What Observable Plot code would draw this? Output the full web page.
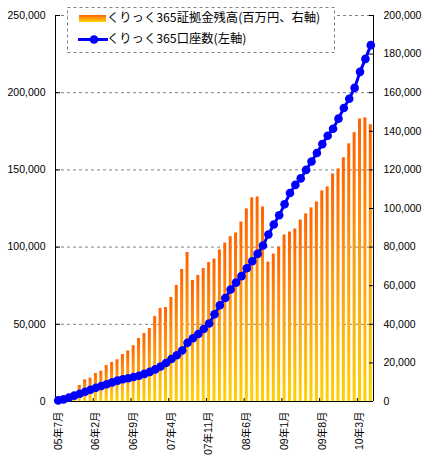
<!DOCTYPE html>
<html>
<head>
<meta charset="utf-8">
<script src="https://cdn.jsdelivr.net/npm/d3@7"></script>
<script src="https://cdn.jsdelivr.net/npm/@observablehq/plot@0.6"></script>
<style>
  body { margin: 0; background: #fff; }
  #chart { position: relative; width: 429px; height: 467px; }
</style>
</head>
<body>
<div id="chart"></div>
<script>
// months (categories)
const months = [
  "05年7月","05年8月","05年9月","05年10月","05年11月","05年12月",
  "06年1月","06年2月","06年3月","06年4月","06年5月","06年6月","06年7月","06年8月","06年9月","06年10月","06年11月","06年12月",
  "07年1月","07年2月","07年3月","07年4月","07年5月","07年6月","07年7月","07年8月","07年9月","07年10月","07年11月","07年12月",
  "08年1月","08年2月","08年3月","08年4月","08年5月","08年6月","08年7月","08年8月","08年9月","08年10月","08年11月","08年12月",
  "09年1月","09年2月","09年3月","09年4月","09年5月","09年6月","09年7月","09年8月","09年9月","09年10月","09年11月","09年12月",
  "10年1月","10年2月","10年3月","10年4月","10年5月"
]
// 証拠金残高 (百万円, right axis)
const balance = [
  300, 1000, 2000, 4700, 8300, 11200, 12100, 14500, 15700, 18600,
  20200, 21600, 24300, 26200, 28900, 32600, 35200, 37800, 44000, 48200,
  48700, 53900, 60100, 68400, 77200, 62700, 65300, 68900, 72000, 73800,
  78500, 82100, 85400, 87300, 93000, 99800, 105500, 106000, 100800, 72200,
  76400, 80000, 86300, 87800, 89400, 94000, 97200, 100300, 103400, 109100,
  111200, 117900, 120500, 126300, 133500, 139300, 146400, 147000, 143400
]
// 口座数 (left axis)
const accounts = [
  700, 1400, 2600, 3800, 5000, 6300, 7600, 8900, 10000, 11200,
  12400, 13500, 14400, 15100, 15900, 16700, 17900, 19200, 20800, 22700,
  24900, 27500, 30000, 33000, 38000, 41000, 43700, 47000, 50500, 56500,
  62300, 67000, 72500, 77000, 81200, 86300, 90800, 95600, 101000, 108200,
  114600, 120600, 127700, 135000, 140300, 144500, 150000, 155400, 160900, 166700,
  172100, 176700, 183200, 190100, 196100, 203100, 213500, 221900, 230800
]
const seriesNames = ["くりっく365証拠金残高(百万円、右軸)", "くりっく365口座数(左軸)"]
const leftTicks = [0, 50000, 100000, 150000, 200000, 250000]
const rightTicks = [0, 20000, 40000, 60000, 80000, 100000, 120000, 140000, 160000, 180000, 200000]
const xTickLabels = ["05年7月","06年2月","06年9月","07年4月","07年11月","08年6月","09年1月","09年8月","10年3月"]

// right axis values mapped onto the left scale
const k = 250000 / 200000
const data = months.map((m, i) => ({month: m, balance: balance[i], accounts: accounts[i]}))

const W = 429, H = 467, mL = 55, mR = 56, mT = 15, mB = 66
const plotW = W - mL - mR, plotH = H - mT - mB
const step = plotW / months.length
const fmt = d3.format(",")

const plot = Plot.plot({
  width: W, height: H,
  marginLeft: mL, marginRight: mR, marginTop: mT, marginBottom: mB,
  style: {fontFamily: "'Liberation Sans', 'Noto Sans CJK JP', sans-serif", fontSize: "10.5px", background: "#fff", color: "#000", overflow: "visible"},
  x: {type: "band", domain: months, padding: 0, round: false, axis: null},
  y: {domain: [0, 250000], axis: null},
  marks: [
    // gridlines
    Plot.ruleY(leftTicks.slice(1), {stroke: "#808080", strokeDasharray: "3,3"}),
    Plot.barY(data, {x: "month", y: d => d.balance * k, fill: "url(#barGrad)", insetLeft: 1.2, insetRight: 1.2}),
    // axis lines + inside ticks
    Plot.ruleY([0], {stroke: "#000"}),
    Plot.ruleX([months[0]], {dx: -step / 2, stroke: "#000"}),
    Plot.ruleX([months[months.length - 1]], {dx: step / 2, stroke: "#000"}),
    Plot.ruleY(leftTicks, {stroke: "#000", insetRight: plotW - 5}),
    Plot.ruleY(rightTicks.map(v => v * k), {stroke: "#000", insetLeft: plotW - 4}),
    Plot.ruleX(xTickLabels, {dx: -step / 2, stroke: "#000", insetTop: plotH - 3}),
    Plot.axisY({anchor: "left", ticks: leftTicks, tickSize: 0, tickPadding: 10, tickFormat: fmt, label: null}),
    Plot.axisY({anchor: "right", ticks: rightTicks.map(v => v * k), tickSize: 0, tickPadding: 10, tickFormat: d => fmt(Math.round(d / k)), label: null}),
    Plot.axisX({ticks: xTickLabels, tickSize: 0, tickPadding: 10, tickRotate: -90, label: null}),
    // accounts line
    Plot.line(data, {x: "month", y: "accounts", stroke: "#0000ff", strokeWidth: 3}),
    Plot.dot(data, {x: "month", y: "accounts", r: 4.3, fill: "#0000ff"})
  ]
})

d3.select(plot).insert("defs", ":first-child").html(`
  <linearGradient id="barGrad" x1="0" y1="0" x2="0" y2="1">
    <stop offset="0" stop-color="#ff6200"/>
    <stop offset="0.45" stop-color="#ff9a10"/>
    <stop offset="1" stop-color="#ffd200"/>
  </linearGradient>`)

const div = document.querySelector("#chart")
div.append(plot)

// legend box inside the plot area
const leg = d3.select(div).append("svg")
  .attr("width", 270).attr("height", 48)
  .style("position", "absolute").style("left", "66px").style("top", "6px")
  .style("font-family", "'Noto Sans CJK JP', sans-serif").style("font-size", "12.3px")
leg.append("rect").attr("x", 1.5).attr("y", 1.5).attr("width", 267).attr("height", 45)
  .attr("fill", "#fff").attr("stroke", "#808080").attr("stroke-dasharray", "3,3")
leg.append("rect").attr("x", 13).attr("y", 9).attr("width", 27).attr("height", 7).attr("fill", "url(#barGrad)")
leg.append("line").attr("x1", 12).attr("x2", 42).attr("y1", 33.5).attr("y2", 33.5)
  .attr("stroke", "#0000ff").attr("stroke-width", 3)
leg.append("circle").attr("cx", 28).attr("cy", 33.5).attr("r", 4.3).attr("fill", "#0000ff")
leg.selectAll("text").data(seriesNames).join("text")
  .attr("x", 41).attr("y", (d, i) => i ? 34 : 12.5)
  .attr("dominant-baseline", "middle")
  .text(d => d)
</script>
</body>
</html>
